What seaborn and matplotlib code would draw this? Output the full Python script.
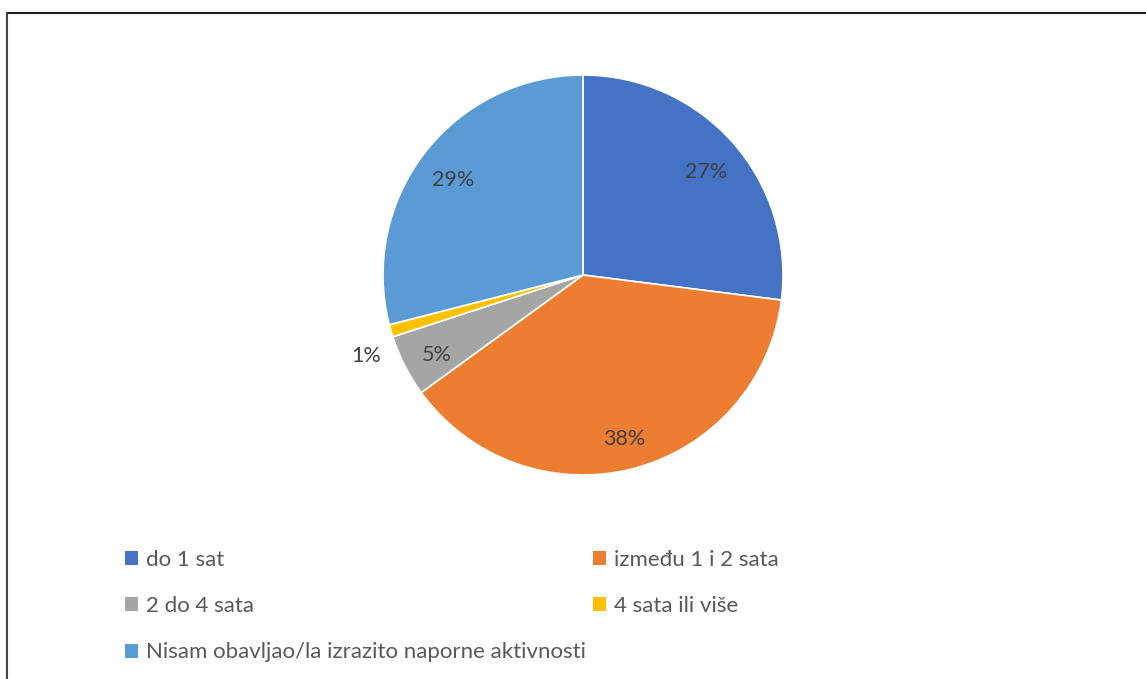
import matplotlib
matplotlib.use("Agg")
import matplotlib.pyplot as plt
import seaborn as sns
from matplotlib.patches import Patch
from matplotlib.lines import Line2D
import numpy as np

# chart data
categories = ["do 1 sat", "između 1 i 2 sata", "2 do 4 sata", "4 sata ili više",
              "Nisam obavljao/la izrazito naporne aktivnosti"]
shares = [27, 38, 5, 1, 29]
colors = ["#4472C4", "#ED7D31", "#A5A5A5", "#FFC000", "#5B9BD5"]

sns.set_style("white")
plt.rcParams["font.family"] = ["Lato", "DejaVu Sans"]

fig = plt.figure(figsize=(11.46, 6.79), dpi=100)
ax = fig.add_axes([383 / 1146, 204 / 679, 400 / 1146, 400 / 679])

wedges, texts, autotexts = ax.pie(
    shares, colors=colors, startangle=90, counterclock=False,
    autopct="%1.0f%%", pctdistance=0.82, radius=1,
    wedgeprops=dict(edgecolor="white", linewidth=1.2),
    textprops=dict(color="#404040", fontsize=15.5),
)
ax.set_xlim(-1, 1)
ax.set_ylim(-1, 1)
ax.set_aspect("equal")

# nudge labels down a touch, tiny slice label sits outside the pie
for i, t in enumerate(autotexts):
    x, y = t.get_position()
    if i == 3:
        w = wedges[3]
        mid = np.deg2rad((w.theta1 + w.theta2) / 2 + 3.0)
        x, y = 1.15 * np.cos(mid), 1.15 * np.sin(mid)
    t.set_position((x, y - 0.028))

# legend
handles = [Patch(facecolor=c, edgecolor="none") for c in colors]
order = [0, 2, 4, 1, 3]
leg = fig.legend(
    [handles[i] for i in order], [categories[i] for i in order],
    ncol=2, loc="upper left", bbox_to_anchor=(125 / 1146, 1 - 550 / 679),
    frameon=False, fontsize=16, handlelength=0.6, handleheight=0.6,
    handletextpad=0.35, labelspacing=1.18, columnspacing=0.3, borderpad=0,
    borderaxespad=0,
)
for t in leg.get_texts():
    t.set_color("#595959")

# chart border (top and left edges visible)
fig.add_artist(Line2D([6.5 / 1146, 1], [1 - 12.5 / 679, 1 - 12.5 / 679],
                      transform=fig.transFigure, color="#222222", linewidth=1.5))
fig.add_artist(Line2D([6.5 / 1146, 6.5 / 1146], [0, 1 - 12.5 / 679],
                      transform=fig.transFigure, color="#444444", linewidth=1.5))

fig.savefig("out.png", dpi=100)
